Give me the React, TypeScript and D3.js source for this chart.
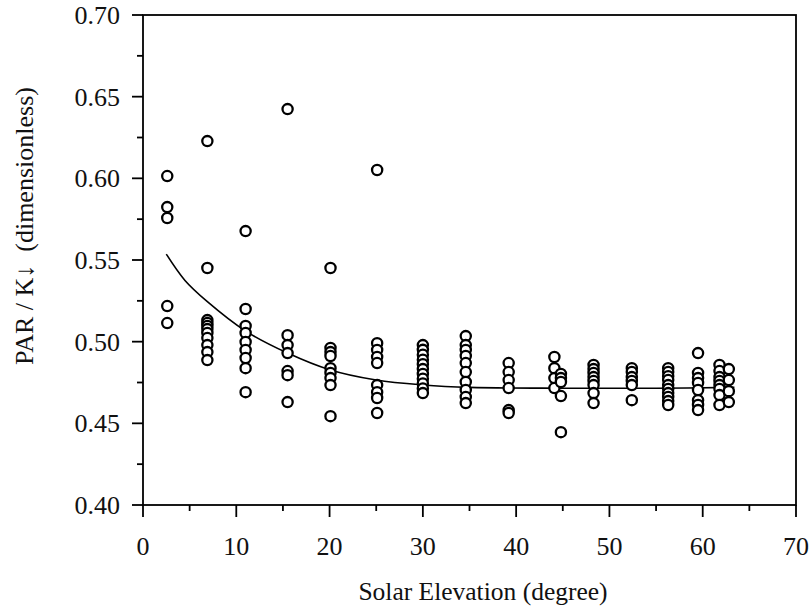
import React from "react";
import * as d3 from "d3";

// Solar elevation columns (degree) and the PAR/K ratios read at each
const colX = [2.6, 6.9, 11.0, 15.5, 20.1, 25.1, 30.0, 34.6, 39.2, 44.1, 44.8, 48.3, 52.4, 56.3, 59.5, 61.8, 62.8];
const colY: number[][] = [
  [0.6014, 0.5824, 0.5757, 0.5218, 0.5114],
  [0.6228, 0.5451, 0.5132, 0.5114, 0.5096, 0.5077, 0.5053, 0.5022, 0.4979, 0.4936, 0.4887],
  [0.5677, 0.52, 0.5096, 0.5053, 0.4998, 0.4949, 0.49, 0.4838, 0.4691],
  [0.6424, 0.504, 0.4979, 0.493, 0.482, 0.4795, 0.463],
  [0.5451, 0.4961, 0.4936, 0.4912, 0.4838, 0.4808, 0.4777, 0.4734, 0.4544],
  [0.6051, 0.4991, 0.4949, 0.4906, 0.4869, 0.4734, 0.4691, 0.4655, 0.4563],
  [0.4979, 0.495, 0.492, 0.489, 0.4862, 0.4832, 0.4802, 0.4773, 0.4744, 0.4714, 0.4685],
  [0.5034, 0.4979, 0.4949, 0.4912, 0.4869, 0.4814, 0.4753, 0.4704, 0.4661, 0.4624],
  [0.4869, 0.4814, 0.4765, 0.4716, 0.4581, 0.4563],
  [0.4906, 0.4838, 0.4777, 0.4716],
  [0.4802, 0.4777, 0.4753, 0.4667, 0.4446],
  [0.4857, 0.4832, 0.4808, 0.4783, 0.4759, 0.4734, 0.4685, 0.4624],
  [0.4838, 0.4814, 0.4783, 0.4759, 0.4734, 0.4642],
  [0.4838, 0.4814, 0.4789, 0.4765, 0.4734, 0.471, 0.4685, 0.4661, 0.4636, 0.4612],
  [0.493, 0.4808, 0.4777, 0.4747, 0.4704, 0.4642, 0.4612, 0.4581],
  [0.4857, 0.482, 0.4783, 0.4759, 0.4734, 0.471, 0.4673, 0.4612],
  [0.4832, 0.4765, 0.4697, 0.463],
];

// Fitted curve
const fitX = [2.5, 4.5, 6.9, 11, 15.5, 20, 25, 30, 35, 45, 55, 63.4];
const fitY = [0.5536, 0.5375, 0.5245, 0.5065, 0.493, 0.4828, 0.4765, 0.4735, 0.472, 0.4715, 0.4715, 0.472];

const xMajor = [0, 10, 20, 30, 40, 50, 60, 70];
const xMinor = [5, 15, 25, 35, 45, 55, 65];
const yMajor = [0.4, 0.45, 0.5, 0.55, 0.6, 0.65, 0.7];
const yMinor = [0.425, 0.475, 0.525, 0.575, 0.625, 0.675];

const FONT = "'Liberation Serif', 'Times New Roman', serif";

export default function App() {
  const x = d3.scaleLinear().domain([0, 70]).range([143, 796]);
  const y = d3.scaleLinear().domain([0.4, 0.7]).range([505, 15]);
  const points = colX.flatMap((cx, i) => colY[i].map((v) => [cx, v] as [number, number]));
  const line = d3
    .line<number>()
    .x((_, i) => x(fitX[i]))
    .y((d) => y(d))
    .curve(d3.curveCatmullRom.alpha(0.5));
  const x0 = x(0), x1 = x(70), y0 = y(0.4), y1 = y(0.7);
  return (
    <svg width={811} height={614} style={{ position: "absolute", left: 0, top: 0, background: "#fff" }}>
      <rect x={0} y={0} width={811} height={614} fill="#fff" />
      <g stroke="#000" strokeWidth={1.8} fill="none">
        <rect x={x0} y={y1} width={x1 - x0} height={y0 - y1} />
        {xMajor.map((t) => (
          <line key={"xM" + t} x1={x(t)} x2={x(t)} y1={y0} y2={y0 + 12} />
        ))}
        {xMinor.map((t) => (
          <line key={"xm" + t} x1={x(t)} x2={x(t)} y1={y0} y2={y0 + 6} />
        ))}
        {yMajor.map((t) => (
          <line key={"yM" + t} x1={x0 - 11} x2={x0} y1={y(t)} y2={y(t)} />
        ))}
        {yMinor.map((t) => (
          <line key={"ym" + t} x1={x0 - 6} x2={x0} y1={y(t)} y2={y(t)} />
        ))}
      </g>
      <path d={line(fitY) || ""} fill="none" stroke="#000" strokeWidth={1.6} />
      <g fill="#fff" stroke="#000" strokeWidth={2.3}>
        {points.map((p, i) => (
          <circle key={i} cx={x(p[0])} cy={y(p[1])} r={5.1} />
        ))}
      </g>
      <g fontFamily={FONT} fontSize={26} fill="#111">
        {xMajor.map((t) => (
          <text key={"xl" + t} x={x(t)} y={555} textAnchor="middle">
            {t}
          </text>
        ))}
        {yMajor.map((t) => (
          <text key={"yl" + t} x={120} y={y(t) + 9} textAnchor="end">
            {t.toFixed(2)}
          </text>
        ))}
        <text x={483} y={600} textAnchor="middle" fontSize={25.5}>
          Solar Elevation (degree)
        </text>
        <text transform="translate(33,226) rotate(-90)" textAnchor="middle" fontSize={26} style={{ whiteSpace: "pre" }}>
          {"PAR / K\u2193  (dimensionless)"}
        </text>
      </g>
    </svg>
  );
}
